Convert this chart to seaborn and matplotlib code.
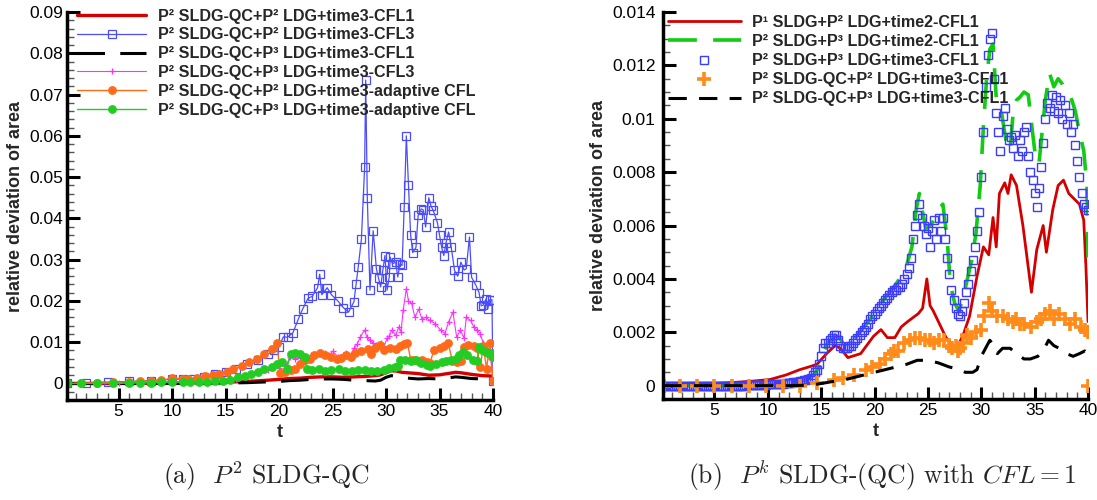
import numpy as np
import matplotlib
matplotlib.use("Agg")
import matplotlib.pyplot as plt
import seaborn as sns
from matplotlib.ticker import MultipleLocator, FuncFormatter

sns.set_style("ticks")
plt.rcParams['font.family'] = ['Liberation Sans', 'DejaVu Sans']
plt.rcParams['mathtext.fontset'] = 'cm'

# ---------------- panel (a): P2 SLDG-QC ----------------
a_labels = ["P² SLDG-QC+P² LDG+time3-CFL1", "P² SLDG-QC+P² LDG+time3-CFL3",
            "P² SLDG-QC+P³ LDG+time3-CFL1", "P² SLDG-QC+P³ LDG+time3-CFL3",
            "P² SLDG-QC+P² LDG+time3-adaptive CFL", "P² SLDG-QC+P³ LDG+time3-adaptive CFL"]

a1_t = [0.2, 5, 10, 13, 15, 17, 19, 20, 21, 22, 23, 24, 25, 26, 27, 28, 29, 29.5, 30, 30.5,
        31, 31.5, 32, 33, 34, 35, 36, 36.5, 37, 38, 39, 40]
a1_v = [0, 0, 0.0001, 0.0002, 0.0003, 0.0005, 0.0008, 0.001, 0.0012, 0.0013, 0.0015, 0.0016,
        0.0016, 0.0015, 0.0016, 0.0017, 0.0019, 0.0021, 0.0026, 0.0031, 0.003, 0.0027, 0.0026,
        0.0024, 0.002, 0.0021, 0.0025, 0.0027, 0.0026, 0.0022, 0.0019, 0.0018]

a2_t = [0.2, 2, 4, 6, 8, 10, 11, 12, 13, 14, 15, 16, 17, 18, 18.5, 19, 19.5, 20, 20.4, 20.8,
        21.3, 21.8, 22.2, 22.7, 23.1, 23.6, 23.8, 24.0, 24.5, 24.9, 25.5, 26.0, 26.5, 27.0,
        27.2, 27.4, 27.7, 28.0, 28.1, 28.25, 28.5, 28.8, 29.1, 29.3, 29.5, 29.7, 29.9, 30.1,
        30.3, 30.4, 30.6, 30.9, 31.1, 31.3, 31.5, 31.7, 31.9, 32.1, 32.3, 32.5, 32.8, 33.0,
        33.3, 33.5, 33.7, 34.0, 34.2, 34.4, 34.8, 35.0, 35.2, 35.4, 35.6, 35.85, 36.1, 36.4,
        36.7, 37.0, 37.3, 37.5, 37.8, 38.0, 38.4, 38.7, 38.9, 39.1, 39.35, 39.5, 39.7, 39.9, 40.0]
a2_v = [0, 0.0002, 0.0003, 0.0005, 0.0007, 0.001, 0.0011, 0.0012, 0.0016, 0.0022, 0.0028,
        0.0036, 0.0048, 0.0058, 0.0065, 0.0072, 0.008, 0.0089, 0.0113, 0.0112, 0.0123, 0.0156,
        0.018, 0.0206, 0.0211, 0.0232, 0.0265, 0.0215, 0.0232, 0.0215, 0.020, 0.0184, 0.0173,
        0.0198, 0.024, 0.0282, 0.035, 0.0524, 0.0735, 0.045, 0.0226, 0.037, 0.0278, 0.0255,
        0.0234, 0.0274, 0.031, 0.0226, 0.0258, 0.0306, 0.029, 0.0294, 0.0258, 0.029, 0.0286,
        0.0427, 0.060, 0.048, 0.036, 0.0317, 0.033, 0.0407, 0.0423, 0.042, 0.0379, 0.045, 0.043,
        0.042, 0.039, 0.036, 0.033, 0.031, 0.034, 0.0367, 0.033, 0.0274, 0.026, 0.0294, 0.0275,
        0.0278, 0.0355, 0.0257, 0.0238, 0.022, 0.0188, 0.019, 0.0205, 0.018, 0.0203, 0.0203, 0.0005]

a3_t = [0.2, 5, 10, 15, 17, 19, 20, 21, 22, 23, 24, 25, 26, 27, 28, 29, 29.5, 30, 30.5, 31,
        31.5, 32, 33, 34, 35, 36, 36.5, 37, 38, 39, 40]
a3_v = [0, 0, 0, 0.0001, 0.0002, 0.0004, 0.0005, 0.0007, 0.0008, 0.001, 0.0011, 0.0011, 0.001,
        0.0008, 0.0007, 0.0006, 0.0008, 0.0015, 0.0019, 0.0017, 0.0013, 0.0013, 0.0011, 0.0012,
        0.0011, 0.0014, 0.0016, 0.0015, 0.0012, 0.0011, 0.0013]

a4_t = [0.2, 5, 10, 14, 16, 18, 19, 20, 20.4, 20.7, 21.0, 21.5, 22, 22.5, 23, 23.5, 24, 24.3,
        24.7, 25, 25.5, 26, 26.3, 26.7, 27, 27.3, 27.6, 28, 28.2, 28.5, 28.8, 29.1, 29.5, 29.8,
        30.1, 30.3, 30.55, 30.9, 31.2, 31.4, 31.6, 31.9, 32.1, 32.4, 32.7, 33.05, 33.35, 33.7,
        34.1, 34.6, 35.1, 35.5, 35.85, 36.25, 36.6, 36.95, 37.3, 37.5, 37.9, 38.2, 38.5, 38.8,
        39.1, 39.4, 39.6, 39.8, 40]
a4_v = [0, 0.0001, 0.0003, 0.0005, 0.0012, 0.0025, 0.0032, 0.0038, 0.005, 0.0044, 0.0065, 0.006,
        0.0062, 0.0065, 0.0068, 0.007, 0.0073, 0.0075, 0.0068, 0.0078, 0.0065, 0.007, 0.0073,
        0.0068, 0.0085, 0.0095, 0.0113, 0.0129, 0.0113, 0.0105, 0.0098, 0.0093, 0.0097, 0.009,
        0.0109, 0.0115, 0.0129, 0.0117, 0.0137, 0.0125, 0.0177, 0.023, 0.020, 0.0194, 0.016,
        0.018, 0.0157, 0.016, 0.0153, 0.0145, 0.0129, 0.0121, 0.0149, 0.0173, 0.0113, 0.0129,
        0.0109, 0.016, 0.0153, 0.0137, 0.0129, 0.0121, 0.0097, 0.0085, 0.0065, 0.006, 0.0005]

a5_t = [0.2, 1.5, 3, 4.5, 6, 7, 8, 9, 10, 11, 11.5, 12.3, 13.1, 13.8, 14.4, 15.1, 15.7, 16.5,
        17.2, 17.9, 18.6, 19.3, 19.8, 20.1, 20.6, 21.1, 21.5, 22.0, 22.4, 22.9, 23.3, 23.8, 24.3,
        24.9, 25.4, 25.8, 26.3, 26.7, 27.1, 27.7, 28.3, 28.6, 29.0, 29.4, 29.8, 30.4, 30.9, 31.3,
        31.7, 32.0, 32.3, 32.6, 33.0, 33.4, 33.8, 34.1, 34.5, 35.0, 35.4, 35.8, 36.2, 36.6, 37.0,
        37.3, 37.7, 38.2, 38.5, 38.8, 39.1, 39.4, 39.7, 40]
a5_v = [0, 0.0001, 0.0002, 0.0003, 0.0004, 0.0005, 0.0006, 0.0008, 0.0013, 0.0012, 0.0012,
        0.0014, 0.0017, 0.002, 0.0023, 0.0028, 0.0035, 0.0043, 0.0051, 0.0059, 0.0071, 0.0083,
        0.0097, 0.0026, 0.0027, 0.0032, 0.0036, 0.0048, 0.0056, 0.006, 0.0068, 0.0075, 0.0068,
        0.0065, 0.006, 0.0062, 0.0068, 0.0065, 0.0073, 0.0079, 0.0083, 0.0071, 0.0085, 0.0093,
        0.008, 0.0087, 0.0083, 0.009, 0.0095, 0.0099, 0.0058, 0.0057, 0.0055, 0.0057, 0.0053,
        0.005, 0.0082, 0.0087, 0.0092, 0.0099, 0.0055, 0.0052, 0.0055, 0.0088, 0.0093, 0.009,
        0.0087, 0.004, 0.009, 0.0035, 0.0098, 0.0005]

a6_t = [0.2, 1.5, 3, 4.5, 6, 7, 8, 9, 10, 11, 11.7, 12.5, 13.3, 14.0, 14.8, 15.4, 16.2, 16.8,
        17.4, 18.0, 18.6, 19.3, 19.8, 20.3, 20.7, 21.1, 21.5, 22.0, 22.4, 22.6, 23.1, 23.7, 24.3,
        24.9, 25.6, 26.2, 26.8, 27.4, 28.0, 28.6, 29.2, 29.8, 30.3, 30.8, 31.1, 31.3, 31.8, 32.3,
        32.8, 33.3, 33.8, 34.1, 34.7, 35.2, 35.6, 36.1, 36.5, 36.8, 37.2, 37.6, 38.1, 38.5, 38.7,
        39.0, 39.3, 39.6, 39.9, 40]
a6_v = [0, 0, 0, 0.0001, 0.0001, 0.0002, 0.0002, 0.0003, 0.0003, 0.0004, 0.0004, 0.0004, 0.0004,
        0.0005, 0.0006, 0.0008, 0.0016, 0.0019, 0.0023, 0.0028, 0.0035, 0.0039, 0.0047, 0.0051,
        0.0035, 0.0071, 0.0073, 0.0071, 0.0063, 0.0035, 0.0033, 0.0035, 0.0031, 0.0033, 0.0035,
        0.0031, 0.0031, 0.0033, 0.0032, 0.0031, 0.003, 0.0033, 0.0037, 0.004, 0.0043, 0.0058,
        0.0057, 0.0055, 0.0056, 0.005, 0.0045, 0.0042, 0.0048, 0.0052, 0.0055, 0.0058, 0.006,
        0.007, 0.0077, 0.0068, 0.0058, 0.0055, 0.0089, 0.0082, 0.0077, 0.0075, 0.0073, 0.0065]

# ---------------- panel (b): Pk SLDG-(QC), CFL=1 ----------------
b_labels = ["P¹ SLDG+P² LDG+time2-CFL1", "P² SLDG+P³ LDG+time2-CFL1",
            "P² SLDG+P³ LDG+time3-CFL1", "P² SLDG-QC+P² LDG+time3-CFL1",
            "P² SLDG-QC+P³ LDG+time3-CFL1"]

b1_t = [0.2, 3, 6, 8.3, 10.2, 11.7, 13.0, 14.0, 14.6, 15.5, 16.3, 16.8, 17.5, 18.7, 19.9, 20.6,
        21.2, 21.9, 22.5, 23.1, 24.1, 24.5, 24.9, 25.2, 25.5, 26.1, 26.7, 27.4, 27.7, 28.3, 28.9,
        29.6, 30.2, 30.7, 31.1, 31.4, 31.7, 32.2, 32.5, 32.8, 33.3, 33.9, 34.7, 35.2, 35.8, 36.1,
        36.7, 37.2, 37.7, 38.2, 38.7, 39.2, 39.6, 39.8, 40]
b1_v = [0, 0.00005, 0.0001, 0.00016, 0.00023, 0.0004, 0.0006, 0.00072, 0.0008, 0.0012, 0.0015,
        0.0014, 0.00105, 0.0012, 0.00185, 0.0021, 0.0018, 0.0018, 0.0022, 0.0024, 0.0027, 0.0029,
        0.004, 0.003, 0.0028, 0.0023, 0.0018, 0.0015, 0.0014, 0.0019, 0.0026, 0.0041, 0.0052,
        0.0049, 0.0063, 0.0052, 0.0072, 0.0076, 0.0072, 0.0079, 0.0075, 0.006, 0.0035, 0.0051,
        0.006, 0.005, 0.0066, 0.0075, 0.0077, 0.0072, 0.007, 0.0068, 0.0062, 0.0045, 0.0024]

b2_t = [0.2, 3, 6, 9, 12, 13.5, 14.3, 14.8, 15.2, 15.6, 16.0, 16.3, 16.7, 17.2, 18.0, 19.0, 20.0,
        21.0, 22.0, 22.5, 23.0, 23.5, 23.9, 24.2, 24.5, 24.8, 25.2, 25.6, 26.0, 26.4, 26.8, 27.1,
        27.5, 27.9, 28.3, 28.7, 29.1, 29.5, 29.9, 30.2, 30.5, 30.8, 31.1, 31.4, 31.8, 32.1, 32.4,
        32.7, 33.0, 33.3, 33.6, 34.0, 34.4, 34.8, 35.1, 35.4, 35.7, 36.0, 36.4, 36.8, 37.2, 37.6,
        38.0, 38.4, 38.8, 39.2, 39.6, 39.9, 40]
b2_v = [0, 0, 0, 0, 0.0001, 0.0002, 0.0004, 0.0007, 0.0012, 0.0016, 0.0017, 0.0019, 0.0018,
        0.0015, 0.0017, 0.0022, 0.0027, 0.0033, 0.0038, 0.0041, 0.0045, 0.0052, 0.0066, 0.0072,
        0.0065, 0.0059, 0.006, 0.0062, 0.0066, 0.0068, 0.0055, 0.0038, 0.0031, 0.0028, 0.0033,
        0.004, 0.0047, 0.0057, 0.0075, 0.0097, 0.0115, 0.0126, 0.0128, 0.0108, 0.0105, 0.0097,
        0.009, 0.0088, 0.0103, 0.0107, 0.0108, 0.011, 0.0109, 0.0095, 0.0085, 0.0083, 0.0095,
        0.0107, 0.0117, 0.0112, 0.0115, 0.0113, 0.011, 0.0108, 0.0103, 0.0095, 0.0088, 0.0075,
        0.0048]

b3_t = [0.2, 0.4, 0.6, 0.8, 1.0, 1.2, 1.4, 1.6, 1.8, 2.0, 2.2, 2.4, 2.6, 2.8, 3.0, 3.2, 3.4,
        3.6, 3.8, 4.0, 4.2, 4.4, 4.6, 4.8, 5.0, 5.2, 5.4, 5.6, 5.8, 6.0, 6.2, 6.4, 6.6, 6.8, 7.0,
        7.2, 7.4, 7.6, 7.8, 8.0, 8.2, 8.4, 8.6, 8.8, 9.0, 9.2, 9.4, 9.6, 9.8, 10.0, 10.2, 10.4,
        10.6, 10.8, 11.0, 11.2, 11.4, 11.6, 11.8, 12.0, 12.2, 12.4, 12.6, 12.8, 13.0, 13.2, 13.4,
        13.6, 13.8,
        14.0, 14.2, 14.4, 14.6, 14.8, 15.0, 15.2, 15.4, 15.6, 15.8, 16.0, 16.2, 16.4, 16.6, 16.8,
        17.0, 17.2, 17.4, 17.6, 17.8, 18.0, 18.2, 18.4, 18.6, 18.8, 19.0, 19.2, 19.4, 19.6, 19.8,
        20.0, 20.2, 20.4, 20.6, 20.8, 21.0, 21.2, 21.4, 21.6, 21.8, 22.0, 22.2, 22.4, 22.6, 22.8,
        23.0, 23.2, 23.4, 23.6, 23.8, 24.0, 24.2, 24.4, 24.6, 24.8, 25.0, 25.2, 25.4, 25.6, 25.8,
        26.0, 26.2, 26.4, 26.6, 26.8, 27.0, 27.2, 27.4, 27.6, 27.8, 28.0, 28.2, 28.4, 28.6, 28.8,
        29.0, 29.2, 29.4, 29.6, 29.8, 30.0, 30.2, 30.4, 30.6, 30.8, 31.0, 31.2, 31.4, 31.6, 31.8,
        32.0, 32.2, 32.4, 32.6, 32.8, 33.0, 33.2, 33.4, 33.6, 33.8, 34.0, 34.2, 34.4, 34.6, 34.8,
        35.0, 35.2, 35.4, 35.6, 35.8, 36.0, 36.2, 36.4, 36.6, 36.8, 37.0, 37.2, 37.4, 37.6, 37.8,
        38.0, 38.2, 38.4, 38.6, 38.8, 39.0, 39.2, 39.4, 39.6, 39.8, 40.0]
b3_v = [0, 0, 0, 0, 0, 0, 0, 0, 0, 0, 0, 0, 0, 0, 0, 0, 0, 0, 0, 0, 0, 0, 0, 0, 0, 0, 0, 0, 0,
        0, 0, 0, 0, 0, 0, 0, 0, 0, 0, 0.00001, 0.00002, 0.00002, 0.00002, 0.00003, 0.00003,
        0.00003, 0.00003, 0.00004, 0.00004, 0.00005, 0.00005, 0.00006, 0.00006, 0.00007,
        0.00007, 0.00008, 0.00008, 0.00009, 0.0001, 0.0001, 0.00011, 0.00012, 0.00013, 0.00015,
        0.00017, 0.00018, 0.0002, 0.00022, 0.00025,
        0.0003, 0.0004, 0.0005, 0.0006, 0.0008, 0.0011, 0.0014, 0.0016, 0.0016, 0.0017,
        0.0018, 0.0019, 0.0019, 0.0017, 0.0015, 0.0014, 0.0014, 0.0014, 0.0015, 0.0015,
        0.0016, 0.0017, 0.0018, 0.0019, 0.002, 0.0021, 0.0022, 0.0023, 0.0025, 0.0026,
        0.0027, 0.0028, 0.0029, 0.003, 0.0031, 0.0032, 0.0033, 0.0034, 0.0035, 0.0036,
        0.0036, 0.0037, 0.0037, 0.0038, 0.004, 0.0042, 0.0044, 0.0048, 0.0055, 0.006,
        0.0064, 0.0068, 0.0063, 0.006, 0.0057, 0.0059, 0.0052, 0.0058, 0.0062, 0.0055,
        0.0063, 0.0058, 0.0063, 0.0055, 0.0048, 0.0042, 0.0036, 0.0032, 0.0029, 0.0027,
        0.0026, 0.0028, 0.0031, 0.0035, 0.0038, 0.0043, 0.0047, 0.0052, 0.0058, 0.0065,
        0.0078, 0.0095, 0.0112, 0.0124, 0.013, 0.0132, 0.0115, 0.0102, 0.0095, 0.0088,
        0.0101, 0.0104, 0.0096, 0.0092, 0.0093, 0.0089, 0.0094, 0.0086, 0.0092, 0.0088,
        0.0095, 0.0097, 0.0086, 0.008, 0.0077, 0.0072, 0.0067, 0.0074, 0.0082, 0.0091,
        0.01, 0.0106, 0.0104, 0.0109, 0.0103, 0.0108, 0.0102, 0.0107, 0.01, 0.0105,
        0.0098, 0.0102, 0.0095, 0.0098, 0.009, 0.0084, 0.0078, 0.0072, 0.0068, 0.0067, 0.0066]

b4_t = [0.3, 1.8, 3.4, 5.0, 6.6, 8.2, 9.8, 11.4, 13.0, 14.6, 16.2, 17.0, 18.1, 19.2, 19.8, 20.5,
        21.0, 21.5, 21.8, 22.2, 22.8, 23.3, 23.8, 24.3, 24.7, 25.2, 25.6, 26.0, 26.5, 27.0, 27.3,
        27.6, 27.8, 28.0, 28.3, 28.7, 29.0, 29.5, 30.0, 30.3, 30.7, 31.0, 31.5, 32.0, 32.5, 33.0,
        33.3, 33.6, 34.0, 34.7, 35.2, 35.6, 36.0, 36.4, 36.8, 37.3, 37.8, 38.3, 38.8, 39.3, 39.7,
        40.0, 40.0]
b4_v = [0, 0, 0, 0, 0, 0, 0, 0, 0, 0.0001, 0.0002, 0.0003, 0.0004, 0.0006, 0.0007, 0.0008, 0.001,
        0.0012, 0.0013, 0.0013, 0.0016, 0.0017, 0.0018, 0.0018, 0.0017, 0.0017, 0.0016, 0.0017,
        0.0017, 0.0015, 0.0014, 0.0015, 0.0013, 0.0014, 0.0016, 0.0019, 0.0018, 0.002, 0.0021,
        0.0026, 0.0031, 0.0028, 0.0026, 0.0026, 0.0025, 0.0024, 0.0025, 0.0023, 0.0023, 0.0022,
        0.0024, 0.0025, 0.0027, 0.0028, 0.0025, 0.0027, 0.0025, 0.0023, 0.0025, 0.0022, 0.0021,
        0.002, 0.0]

b5_t = [0.2, 3, 6, 9, 12, 14, 15, 16, 17, 18, 19, 20, 21, 22, 23, 24, 25, 26, 27, 28, 28.5, 29.2,
        29.6, 30.0, 30.4, 30.8, 31.2, 31.5, 32.0, 32.7, 33.3, 34.0, 34.6, 35.3, 35.8, 36.3, 36.8,
        37.3, 38.0, 38.6, 39.2, 39.7, 40]
b5_v = [0, 0, 0, 0, 0, 0.00002, 0.00008, 0.00015, 0.0002, 0.0003, 0.0004, 0.0005, 0.0006, 0.0007,
        0.0008, 0.00095, 0.00095, 0.00085, 0.0007, 0.0006, 0.0005, 0.0005, 0.0006, 0.0011,
        0.0014, 0.0017, 0.0015, 0.0012, 0.0014, 0.0014, 0.0012, 0.001, 0.001, 0.0011, 0.0013,
        0.0017, 0.0015, 0.0014, 0.0012, 0.0011, 0.0012, 0.0013, 0.0012]

fig = plt.figure(figsize=(10.97, 5.0), dpi=100)
axa = fig.add_axes([0.0611, 0.2, 0.3883, 0.776])
axb = fig.add_axes([0.6044, 0.202, 0.3874, 0.774])

common = dict(estimator=None, sort=False)

# panel (a)
sns.lineplot(x=a1_t, y=a1_v, ax=axa, color='#d40000', lw=2.4, label=a_labels[0], **common)
sns.lineplot(x=a2_t, y=a2_v, ax=axa, color='#4c4cff', lw=0.9, marker='s', markersize=6,
             markerfacecolor='none', markeredgecolor='#4c4cff', markeredgewidth=0.9,
             markevery=0.011, label=a_labels[1], **common)
sns.lineplot(x=a3_t, y=a3_v, ax=axa, color='black', lw=2.2, dashes=(9, 5), label=a_labels[2], **common)
sns.lineplot(x=a4_t, y=a4_v, ax=axa, color='#ff30ff', lw=0.8, marker='+', markersize=5,
             markeredgecolor='#ff30ff', markeredgewidth=0.9, label=a_labels[3], **common)
sns.lineplot(x=a5_t, y=a5_v, ax=axa, color='#ff6a1a', lw=1.0, marker='o', markersize=5.8,
             markeredgecolor='#ff6a1a', markeredgewidth=0.5, label=a_labels[4], **common)
sns.lineplot(x=a6_t, y=a6_v, ax=axa, color='#22cc22', lw=1.0, marker='o', markersize=5.8,
             markeredgecolor='#22cc22', markeredgewidth=0.5, label=a_labels[5], **common)

# panel (b)
sns.lineplot(x=b1_t, y=b1_v, ax=axb, color='#d40000', lw=2.0, label=b_labels[0], **common)
sns.lineplot(x=b2_t, y=b2_v, ax=axb, color='#11cc11', lw=2.6, dashes=(8, 4.5), label=b_labels[1], **common)
sns.lineplot(x=b3_t, y=b3_v, ax=axb, color='#3c3cff', linestyle='none', marker='s', markersize=6,
             markerfacecolor='none', markeredgecolor='#3c3cff', markeredgewidth=1.0,
             label=b_labels[2], **common)
sns.lineplot(x=b4_t, y=b4_v, ax=axb, color='#ff8c1a', linestyle='none', marker='+', markersize=10,
             markeredgecolor='#ff8c1a', markeredgewidth=2.6, label=b_labels[3], **common)
sns.lineplot(x=b5_t, y=b5_v, ax=axb, color='black', lw=2.2, dashes=(6, 4), label=b_labels[4], **common)


def g_fmt(v, pos):
    return '%g' % round(v, 6)


for ax, ylim, ymaj, ymin_, ypad in [(axa, (-0.004, 0.09), 0.01, 0.002, 3),
                                    (axb, (-0.0005, 0.014), 0.002, 0.0005, 5.5)]:
    ax.set_xlim(0.18, 40)
    ax.set_ylim(*ylim)
    ax.xaxis.set_major_locator(MultipleLocator(5))
    ax.xaxis.set_minor_locator(MultipleLocator(1))
    ax.yaxis.set_major_locator(MultipleLocator(ymaj))
    ax.yaxis.set_minor_locator(MultipleLocator(ymin_))
    ax.xaxis.set_major_formatter(FuncFormatter(g_fmt))
    ax.yaxis.set_major_formatter(FuncFormatter(g_fmt))
    ax.tick_params(which='major', direction='in', length=9, width=2.2, labelsize=12.5,
                   color='black', labelcolor='black')
    ax.tick_params(axis='x', which='major', pad=3)
    ax.tick_params(axis='y', which='major', pad=ypad)
    ax.tick_params(which='minor', direction='in', length=5, width=1, color='#555555')
    for s in ['top', 'right']:
        ax.spines[s].set_visible(False)
    for s in ['left', 'bottom']:
        ax.spines[s].set_linewidth(2.5)
        ax.spines[s].set_color('black')
    ax.set_xlabel('t', fontsize=13, fontweight='bold')
    ax.set_ylabel('relative deviation of area', fontsize=13, fontweight='bold')
    ax.xaxis.set_label_coords(0.5, -0.062)

axa.yaxis.set_label_coords(-0.10, 0.5)
axb.yaxis.set_label_coords(-0.131, 0.5)

axa.legend(loc='upper left', bbox_to_anchor=(0.0235, 1.009), frameon=False, borderpad=0,
           borderaxespad=0, handlelength=4.3, handletextpad=0.75, labelspacing=0.24,
           prop={'weight': 'bold', 'size': 11.6})
axb.legend(loc='upper left', bbox_to_anchor=(0.012, 0.992), frameon=False, borderpad=0,
           borderaxespad=0, handlelength=4.5, handletextpad=0.7, labelspacing=0.25,
           prop={'weight': 'bold', 'size': 11.6})

fig.text(0.2425, 0.048, r'(a)  $P^2$ SLDG-QC', ha='center', va='center',
         fontsize=18.5, family='cmr10')
fig.text(0.804, 0.048, r'(b)  $P^k$ SLDG-(QC) with $CFL = 1$', ha='center', va='center',
         fontsize=18.5, family='cmr10')

fig.savefig('out.png', dpi=100)
